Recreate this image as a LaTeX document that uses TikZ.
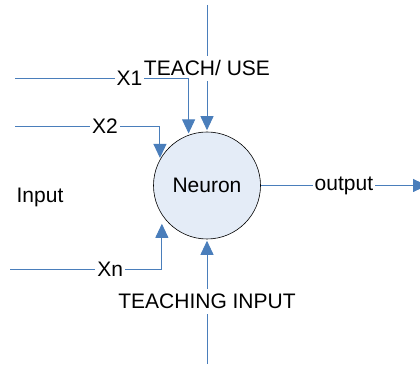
\documentclass[tikz,border=0pt]{standalone}
\usepackage{fontspec}
\setmainfont{Liberation Sans}
\usetikzlibrary{arrows.meta}
\definecolor{wireblue}{HTML}{4A7EBB}
\definecolor{cellfill}{HTML}{E4ECF7}
\tikzset{
	>={Triangle[length=14pt,width=13pt]},
	wire/.style = {
			draw      = wireblue,
			line width = 0.9pt,
			shorten > = 1.5pt,
			->,
		},
	cell/.style = {
			circle,
			draw          = black,
			line width    = 0.6pt,
			fill          = cellfill,
			minimum size  = 107pt,
			inner sep     = 0pt,
		},
	tag/.style = {
			fill       = white,
			inner xsep = 2pt,
			inner ysep = 5pt,
		}
}

\begin{document}
\begin{tikzpicture}[x=1pt,y=1pt,font=\fontsize{21}{24}\selectfont]
	\clip (0,0) rectangle (420,364);

	\node[cell] (neuron) at (207,178.5) {Neuron};
	\node (input) at (40,167) {Input};

	% free ends of the wires
	\coordinate (teach) at (207,359);
	\coordinate (x1) at (15,286);
	\coordinate (x2) at (15,238);
	\coordinate (xn) at (10,95);
	\coordinate (tinput) at (207,0);
	\coordinate (out) at (427,178.5);

	\draw[wire] (teach) -- (neuron.north) node[tag,midway] {TEACH/ USE};
	\draw[wire] (x1) -| (neuron.110) node[tag,pos=0.33] {X1};
	\draw[wire] (x2) -| (neuron.151) node[tag,pos=0.31] {X2};
	\draw[wire,shorten >=9pt] (xn) -| (neuron.213) node[tag,pos=0.33] {Xn};
	\draw[wire] (tinput) -- (neuron.south) node[tag,midway] {TEACHING INPUT};
	\draw[wire,shorten >=0pt] (neuron.east) -- (out) node[tag,midway] {output};
\end{tikzpicture}
\end{document}
